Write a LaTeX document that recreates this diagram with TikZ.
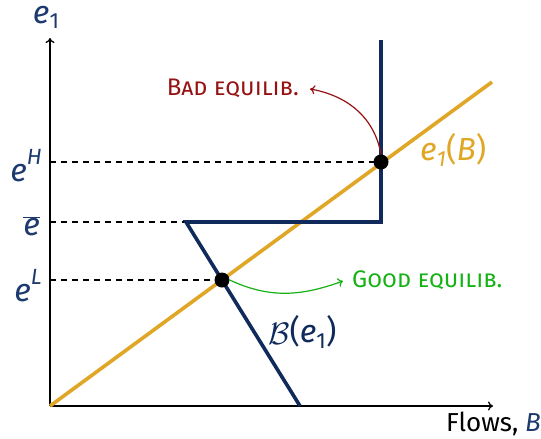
\documentclass[tikz,border=0pt]{standalone}
\usepackage{fontspec}
\setmainfont{Fira Sans}
\usetikzlibrary{arrows.meta}
\definecolor{navy}{RGB}{16,42,92}
\definecolor{lblue}{RGB}{28,58,110}
\definecolor{gold}{RGB}{224,166,38}
\definecolor{darkred}{RGB}{150,18,18}
\definecolor{grn}{RGB}{20,178,20}
\tikzset{
  axis/.style={line width=1.3pt,-{To[length=5pt,width=9pt]}},
  guide/.style={dashed,line width=1.3pt,dash pattern=on 6pt off 5pt},
  navyline/.style={navy,line width=3.6pt},
  goldline/.style={gold,line width=3.6pt},
  eqdot/.style={circle,fill=black,inner sep=0pt,minimum size=15pt},
  biglbl/.style={text=lblue,font=\fontsize{32}{36}\selectfont,inner sep=0pt},
  note/.style={font=\fontsize{24}{26}\selectfont\scshape,inner sep=0pt},
  notearrow/.style={line width=1.2pt,-{To[length=5pt,width=9pt]}}
}
\newcommand{\ite}{\textit{e}}
\newcommand{\supr}[1]{\raisebox{1.0ex}{\fontsize{22}{24}\selectfont\itshape #1}}
\newcommand{\subone}[1]{\raisebox{-0.3ex}{\fontsize{22}{24}\selectfont #1}}
\begin{document}
\begin{tikzpicture}[x=1pt,y=-1pt]
\useasboundingbox (0,0) rectangle (541,439);
% axes
\coordinate (O) at (50,406);
\coordinate (ytop) at (50,38);
\coordinate (xend) at (493,406);
\draw[axis] (O) -- (ytop);
\draw[axis] (O) -- (xend);
% coordinates
\coordinate (H0) at (50,162);
\coordinate (E0) at (50,222);
\coordinate (L0) at (50,280);
\coordinate (bot) at (300,406);
\coordinate (kink) at (186,222);
\coordinate (corner) at (381,222);
\coordinate (top) at (381,40);
\coordinate (gend) at (492,82);
% dashed guides
\draw[guide] (H0) -- (381,162);
\draw[guide] (E0) -- (kink);
\draw[guide] (L0) -- (222,280);
% curves
\draw[goldline] (O) -- (gend);
\draw[navyline,line join=miter] (bot) -- (kink) -- (corner) -- (top);
% dots
\node[eqdot] (bad) at (381,162) {};
\node[eqdot] (good) at (222,280) {};
% labels
\node[biglbl] (ye) at (46,17) {\ite\subone{1}};
\node[biglbl,anchor=east] (eH) at (42,166) {\ite\supr{H}};
\node[biglbl,anchor=east] (eb) at (40,226) {$\overline{\hbox{\ite}}$};
\node[biglbl,anchor=east] (eL) at (42,286) {\ite\supr{L}};
\node[biglbl,text=gold,anchor=west] (e1B) at (420,150) {\ite\subone{\itshape 1}(\textit{B})};
\node[biglbl,text=navy,anchor=west] (Be) at (268,332) {\raisebox{-0.1ex}{\scalebox{1.25}{$\mathcal{B}$}}(\ite\subone{1})};
\node[anchor=north east,inner sep=0pt,font=\fontsize{26}{28}\selectfont] (flows) at (541,412) {Flows, \textcolor{lblue}{\textit{B}}};
\node[note,text=darkred,anchor=east] (badlbl) at (299,88) {Bad equilib.};
\node[note,text=grn,anchor=west] (goodlbl) at (352,280) {Good equilib.};
% note arrows
\coordinate (badtip) at (310,89);
\coordinate (goodtip) at (343,281);
\draw[notearrow,darkred] (bad.north) to[out=100,in=-10] (badtip);
\draw[notearrow,grn] (good.east) to[out=-25,in=200] (goodtip);
\end{tikzpicture}
\end{document}
